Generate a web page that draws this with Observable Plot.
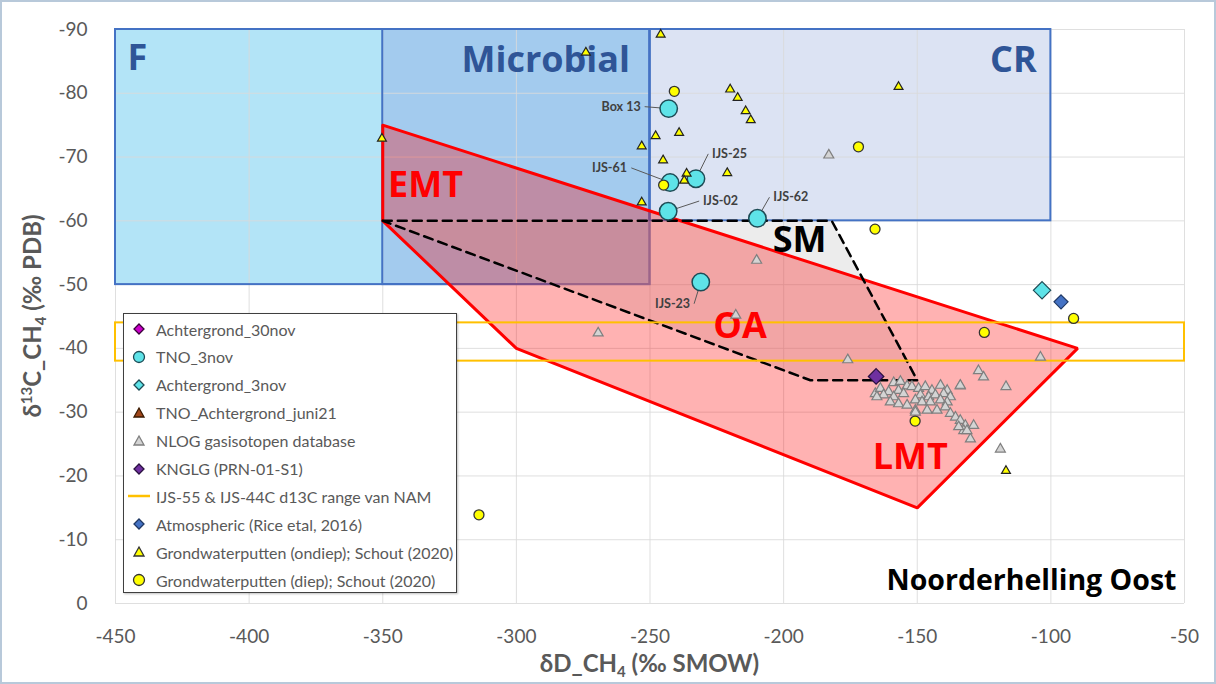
<!DOCTYPE html>
<html><head><meta charset="utf-8">
<script src="https://cdn.jsdelivr.net/npm/d3@7"></script>
<script src="https://cdn.jsdelivr.net/npm/@observablehq/plot@0.6"></script>
<style>
body{margin:0;background:#fff;}
#wrap{position:relative;width:1216px;height:684px;overflow:hidden;font-family:Lato,"Open Sans",sans-serif;}
#legend{position:absolute;left:123px;top:313px;width:334px;height:280px;border:1.5px solid #3f3f3f;background:#fff;box-sizing:border-box;box-shadow:1px 1px 2px rgba(0,0,0,0.25);}
.row{position:absolute;left:4px;height:22px;display:flex;align-items:center;font-size:16px;color:#595959;white-space:nowrap;}
.row svg{width:22px;height:22px;margin-right:6px;flex:none;}
</style></head><body><div id="wrap"></div>
<script>
// ---- axes ----
const xTicks = [-450,-400,-350,-300,-250,-200,-150,-100,-50];
const yTicks = [0,-10,-20,-30,-40,-50,-60,-70,-80,-90];

// ---- genetic fields (boxes) ----
const boxNames = ["F","Microbial","CR"];
const boxD1 = [-450,-350,-250];
const boxD2 = [-250,-250,-100];
const boxC1 = [-90,-90,-90];
const boxC2 = [-50,-50,-60];
const boxFill = ["#b3e4f7","#a3cbee","#dce3f3"];

// ---- thermogenic field (red polygon) ----
const emtD = [-350,-90,-150,-300,-350];
const emtC = [-75,-40,-15,-40,-60];
// ---- SM / OA dashed field ----
const smD = [-350,-182,-150,-190,-350];
const smC = [-60,-60,-35,-35,-60];
// ---- IJS-55 & IJS-44C d13C range van NAM ----
const namD = [-450,-50];
const namC = [-44,-38];

// ---- TNO_3nov ----
const tnoNames = ["Box 13","IJS-61","IJS-25","IJS-02","IJS-62","IJS-23"];
const tnoD = [-243,-242.5,-232.8,-243.2,-209.8,-231.0];
const tnoC = [-77.6,-66.0,-66.6,-61.5,-60.4,-50.4];
const tnoLabelD = [-253.5,-258.6,-226.8,-230.2,-203.9,-235];
const tnoLabelC = [-77.9,-68.3,-70.5,-63.1,-63.7,-47.0];
const tnoLabelAnchor = ["end","end","start","start","start","end"];
const tnoLeaderD = [-252,-257,-228.2,-231.6,-205.3,-233.5];

// ---- Achtergrond_3nov ----
const ach3D = [-103.3];
const ach3C = [-49.1];
// ---- Atmospheric (Rice etal, 2016) ----
const atmD = [-96.2];
const atmC = [-47.3];
// ---- KNGLG (PRN-01-S1) ----
const knD = [-165.4];
const knC = [-35.6];

// ---- Grondwaterputten (ondiep); Schout (2020) ----
const ondiepD = [-274,-246,-220,-217.2,-214.2,-212.3,-157,-247.9,-239.1,-253.1,-245.1,-236.3,-237.2,-221.1,-253.1,-350.3,-116.8];
const ondiepC = [-86.4,-89.2,-80.6,-79.3,-77.2,-75.8,-81.0,-73.3,-73.8,-71.7,-69.5,-67.4,-66.3,-67.5,-62.9,-72.9,-20.8];
// ---- Grondwaterputten (diep); Schout (2020) ----
const diepD = [-240.9,-172,-244.9,-165.8,-124.9,-91.5,-150.8,-314];
const diepC = [-80.3,-71.6,-65.6,-58.7,-42.5,-44.7,-28.6,-13.9];

// ---- NLOG gasisotopen database ----
const nlogD = [-183.1,-210.1,-217.9,-269.4,-176,-103.9,-127.1,-125.2,-116.8,-133.9,-118.9,
  -165.7,-163.8,-158.8,-156.3,-153.8,-152.0,-157.0,-160.7,-162.6,-165.1,-158.8,-155.1,
  -149.5,-147.0,-144.5,-141.3,-138.8,-133.9,
  -148.8,-145.7,-143.2,-140.1,-137.6,
  -160.1,-157.0,-153.8,-150.7,-148.2,-145.1,-141.3,-138.8,
  -150.7,-146.3,-142.6,-139.5,-137.6,-135.7,-133.9,-132.0,-128.9,-130.1,-132.6,-134.5,
  -150.7,-131.4];
const nlogC = [-70.3,-53.8,-45.2,-42.4,-38.2,-38.6,-36.5,-35.5,-34.0,-34.1,-24.2,
  -32.9,-33.7,-34.6,-34.8,-34.1,-34.0,-33.4,-33.2,-32.7,-32.4,-32.4,-32.9,
  -33.7,-34.0,-33.4,-34.2,-33.4,-34.2,
  -32.7,-32.4,-32.7,-32.9,-32.4,
  -31.6,-31.3,-31.1,-31.9,-31.6,-31.6,-31.9,-31.6,
  -30.3,-30.3,-30.3,-30.8,-29.8,-29.2,-28.7,-27.9,-27.9,-25.8,-27.1,-27.7,
  -30.0,-27.1];

// ---- field labels ----
const regionText = ["F","Microbial","CR","EMT","SM","OA","LMT"];
const regionD = [-445.5,-289,-114,-334,-194,-216.3,-152.6];
const regionC = [-85.4,-85.2,-85.2,-65.6,-56.9,-43.4,-22.9];
const regionColor = ["#2f5597","#2f5597","#2f5597","#ff0000","#000000","#ff0000","#ff0000"];
const regionAnchor = ["start","middle","middle","middle","middle","middle","middle"];
const panelTitle = ["Noorderhelling Oost"];
const panelD = [-53];
const panelC = [-3.5];

// ---- legend ----
const legendLabels = ["Achtergrond_30nov","TNO_3nov","Achtergrond_3nov","TNO_Achtergrond_juni21","NLOG gasisotopen database","KNGLG (PRN-01-S1)","IJS-55 & IJS-44C d13C range van NAM","Atmospheric (Rice etal, 2016)","Grondwaterputten (ondiep); Schout (2020)","Grondwaterputten (diep); Schout (2020)"];
const legendShapes = ["diamond","circle","diamond","triangle","triangle","diamond","line","diamond","triangle","circle"];
const legendFill = ["#cc00cc","#5ee3e8","#5ee3e8","#a0461a","#d4d4d4","#7030a0","#ffc000","#4472c4","#ffff00","#ffff00"];
const legendStroke = ["#3a003a","#1d4b55","#1d4b55","#3a1a00","#7f7f7f","#2a1040","#ffc000","#1f3864","#333333","#333333"];

// build tables
const pts = (D,C) => D.map((d,i)=>({x:d, y:C[i]}));
const boxes = boxNames.map((n,i)=>({n, x1:boxD1[i], x2:boxD2[i], y1:boxC1[i], y2:boxC2[i], fill:boxFill[i]}));
const emt = pts(emtD, emtC); const emtRing = emt.concat([emt[0]]);
const sm = pts(smD, smC);
const nam = [{x1:namD[0], x2:namD[1], y1:namC[0], y2:namC[1]}];
const tno = tnoNames.map((n,i)=>({n, x:tnoD[i], y:tnoC[i], lx:tnoLabelD[i], ly:tnoLabelC[i], a:tnoLabelAnchor[i], kx:tnoLeaderD[i]}));
const regions = regionText.map((t,i)=>({t, x:regionD[i], y:regionC[i], c:regionColor[i], a:regionAnchor[i]}));

const F = "Lato, 'Open Sans', sans-serif";
const plot = Plot.plot({
  width: 1216, height: 684,
  marginLeft: 115, marginRight: 32, marginTop: 29, marginBottom: 81,
  style: {fontFamily: F, background: "transparent"},
  x: {domain: [-450,-50]},
  y: {domain: [0,-90]},
  marks: [
    Plot.rect(boxes, {x1:"x1", x2:"x2", y1:"y1", y2:"y2", fill:"fill"}),
    Plot.gridX(xTicks, {stroke:"#d9d9d9", strokeOpacity:0.85, strokeWidth:1}),
    Plot.gridY(yTicks, {stroke:"#d9d9d9", strokeOpacity:0.85, strokeWidth:1}),
    Plot.rect(boxes, {x1:"x1", x2:"x2", y1:"y1", y2:"y2", fill:"none", stroke:"#4472c4", strokeWidth:2}),
    Plot.line(sm, {x:"x", y:"y", fill:"#c8c8c8", fillOpacity:0.35, stroke:"none"}),
    Plot.line(emtRing, {x:"x", y:"y", fill:"#ff0000", fillOpacity:0.3, stroke:"#ff0000", strokeWidth:3, strokeLinejoin:"miter"}),
    Plot.line(sm, {x:"x", y:"y", stroke:"#000", strokeWidth:2.5, strokeDasharray:"9,6"}),
    Plot.rect(nam, {x1:"x1", x2:"x2", y1:"y1", y2:"y2", fill:"none", stroke:"#ffc000", strokeWidth:2}),
    Plot.text(regions, {x:"x", y:"y", text:"t", fill: d=>d.c, textAnchor: "middle", fontSize: 36, fontWeight:"bold", fontFamily:"'Open Sans', sans-serif", filter: d=>d.a==="middle"}),
    Plot.text(regions, {x:"x", y:"y", text:"t", fill: d=>d.c, textAnchor: "start", fontSize: 36, fontWeight:"bold", fontFamily:"'Open Sans', sans-serif", filter: d=>d.a==="start"}),
    Plot.text(panelTitle.map((t,i)=>({t, x:panelD[i], y:panelC[i]})), {x:"x", y:"y", text:"t", textAnchor:"end", fill:"#000", fontSize:28.5, fontWeight:"bold", fontFamily:"'Open Sans', sans-serif"}),
    Plot.link(tno, {x1:"kx", y1:"ly", x2:"x", y2:"y", stroke:"#595959", strokeWidth:1}),
    Plot.dot(tno, {x:"x", y:"y", r:8.7, fill:"#5ee3e8", stroke:"#1d4b55", strokeWidth:1.5}),
    Plot.text(tno.filter(d=>d.a==="end"), {x:"lx", y:"ly", text:"n", textAnchor:"end", fill:"#404040", fontSize:12.5, fontWeight:"bold"}),
    Plot.text(tno.filter(d=>d.a==="start"), {x:"lx", y:"ly", text:"n", textAnchor:"start", fill:"#404040", fontSize:12.5, fontWeight:"bold"}),
    Plot.dot(pts(ach3D, ach3C), {x:"x", y:"y", symbol:"diamond2", r:7.8, fill:"#5ee3e8", stroke:"#1d4b55", strokeWidth:1.2}),
    Plot.dot(pts(nlogD, nlogC), {x:"x", y:"y", symbol:"triangle", r:3.7, fill:"#d4d4d4", stroke:"#7f7f7f", strokeWidth:1.2}),
    Plot.dot(pts(knD, knC), {x:"x", y:"y", symbol:"diamond2", r:7, fill:"#7030a0", stroke:"#2a1040", strokeWidth:1.2}),
    Plot.dot(pts(atmD, atmC), {x:"x", y:"y", symbol:"diamond2", r:6.3, fill:"#4472c4", stroke:"#1f3864", strokeWidth:1.2}),
    Plot.dot(pts(ondiepD, ondiepC), {x:"x", y:"y", symbol:"triangle", r:3.3, fill:"#ffff00", stroke:"#222", strokeWidth:1.2}),
    Plot.dot(pts(diepD, diepC), {x:"x", y:"y", r:5, fill:"#ffff00", stroke:"#333", strokeWidth:1.3}),
    Plot.axisX({ticks: xTicks, tickSize:0, tickPadding:26, tickFormat: d=>String(d), fontSize:19, fill:"#595959", label:null}),
    Plot.axisY({ticks: yTicks, tickSize:0, tickPadding:28, tickFormat: d=>String(d), fontSize:19, fill:"#595959", label:null})
  ]
});

const wrap = document.getElementById("wrap");
wrap.appendChild(plot);

// axis titles and outer border
const svg = d3.select(plot);
const sx = plot.scale("x"), sy = plot.scale("y");
const cx = (sx.apply(xTicks[0]) + sx.apply(xTicks[xTicks.length-1]))/2;
const cy = (sy.apply(yTicks[0]) + sy.apply(yTicks[yTicks.length-1]))/2;
const xt = svg.append("text").attr("x", cx).attr("y", 672).attr("text-anchor","middle")
  .attr("fill","#595959").attr("font-size",24).attr("font-weight","bold").attr("font-family",F);
xt.append("tspan").text("δD_CH");
xt.append("tspan").attr("font-size",15).attr("dy",5).text("4");
xt.append("tspan").attr("dy",-5).text(" (‰ SMOW)");
const yt = svg.append("text").attr("transform",`translate(41,${cy}) rotate(-90)`).attr("text-anchor","middle")
  .attr("fill","#595959").attr("font-size",24).attr("font-weight","bold").attr("font-family",F);
yt.append("tspan").text("δ");
yt.append("tspan").attr("font-size",15).attr("dy",-9).text("13");
yt.append("tspan").attr("dy",9).text("C_CH");
yt.append("tspan").attr("font-size",15).attr("dy",5).text("4");
yt.append("tspan").attr("dy",-5).text(" (‰ PDB)");
svg.append("rect").attr("x",1).attr("y",1).attr("width",1214).attr("height",682)
  .attr("fill","none").attr("stroke","#b8c9da").attr("stroke-width",2);

// legend overlay
const leg = document.createElement("div"); leg.id = "legend"; wrap.appendChild(leg);
legendLabels.forEach((lab,i)=>{
  const row = document.createElement("div"); row.className = "row";
  row.style.top = (4 + i*27.9) + "px";
  const s = d3.create("svg").attr("viewBox","-11 -11 22 22");
  const sh = legendShapes[i];
  if (sh === "circle") s.append("circle").attr("r",5.5);
  else if (sh === "diamond") s.append("path").attr("d","M0,-5L5,0L0,5L-5,0Z");
  else if (sh === "triangle") s.append("path").attr("d","M0,-5L5,4L-5,4Z");
  else s.append("line").attr("x1",-11).attr("x2",11).attr("y1",0).attr("y2",0);
  s.selectAll("*").attr("fill", sh==="line" ? "none" : legendFill[i]).attr("stroke", legendStroke[i]).attr("stroke-width", sh==="line"?2.5:1.3);
  row.appendChild(s.node());
  const t = document.createElement("span"); t.textContent = lab; row.appendChild(t);
  leg.appendChild(row);
});
</script></body></html>
